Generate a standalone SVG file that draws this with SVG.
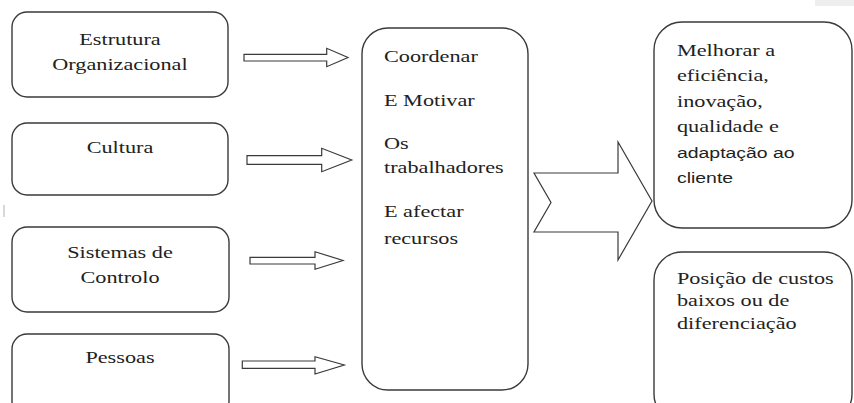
<svg xmlns="http://www.w3.org/2000/svg" width="854" height="403" viewBox="0 0 854 403">
<style>
.box{fill:#fff;stroke:#3a3a3a;stroke-width:1.4}
.arr{fill:#fff;stroke:#3a3a3a;stroke-width:1.2;stroke-linejoin:miter}
text{font-family:"Liberation Serif","Times New Roman",serif;font-size:17.5px;fill:#222;transform-box:fill-box;transform:scaleX(1.27)}
.c{text-anchor:middle;transform-origin:50% 50%}
.l{text-anchor:start;transform-origin:0 0}
.s{font-family:"Liberation Sans",Arial,sans-serif;font-size:15.3px}
</style>
<rect x="815" y="0" width="39" height="6" fill="#eeeeee"/>
<rect x="3" y="205" width="2" height="12" fill="#d8d8d8"/>
<g id="n1">
<rect class="box" x="12" y="12" width="216" height="85" rx="15"/>
<text class="c" x="120" y="45">Estrutura</text>
<text class="c" x="120" y="70">Organizacional</text>
</g>
<g id="n2">
<rect class="box" x="12" y="123" width="216" height="72" rx="15"/>
<text class="c" x="120" y="153">Cultura</text>
</g>
<g id="n3">
<rect class="box" x="12" y="227" width="217" height="85" rx="15"/>
<text class="c" x="120" y="258">Sistemas de</text>
<text class="c" x="120" y="283">Controlo</text>
</g>
<g id="n4">
<rect class="box" x="12" y="334" width="217" height="82" rx="15"/>
<text class="c" x="120" y="363">Pessoas</text>
</g>
<g id="n5">
<rect class="box" x="362" y="28" width="166" height="362" rx="26"/>
<text class="l" x="384" y="62">Coordenar</text>
<text class="l" x="384" y="106">E Motivar</text>
<text class="l" x="384" y="149">Os</text>
<text class="l" x="384" y="173">trabalhadores</text>
<text class="l" x="384" y="217">E afectar</text>
<text class="l" x="384" y="244">recursos</text>
</g>
<g id="n6">
<rect class="box" x="654" y="22" width="198" height="206" rx="28"/>
<text class="l" x="677" y="56">Melhorar a</text>
<text class="l" x="677" y="81">eficiência,</text>
<text class="l" x="677" y="107">inovação,</text>
<text class="l" x="677" y="132">qualidade e</text>
<text class="l s" x="677" y="158">adaptação ao</text>
<text class="l s" x="677" y="183">cliente</text>
</g>
<g id="n7">
<rect class="box" x="654" y="252" width="198" height="170" rx="28"/>
<text class="l" x="677" y="284">Posição de custos</text>
<text class="l" x="677" y="306">baixos ou de</text>
<text class="l" x="677" y="329">diferenciação</text>
</g>
<g id="connectors">
<polygon class="arr" points="244,54.3 326.7,54.3 326.7,48.3 348,57.5 326.7,66.7 326.7,61 244,61"/>
<polygon class="arr" points="247,155.7 321.7,155.7 321.7,148.3 351.7,160 321.7,171.7 321.7,164.3 247,164.3"/>
<polygon class="arr" points="250,257.3 315,257.3 315,251.7 343,260.5 315,269.3 315,264 250,264"/>
<polygon class="arr" points="242.3,361 315,361 315,356.7 344.3,365 315,374 315,368.3 242.3,368.3"/>
<polygon class="arr" points="534,173 618,173 618,142 652,201 618,260 618,232 534,232 551,202.5"/>
</g>
</svg>
